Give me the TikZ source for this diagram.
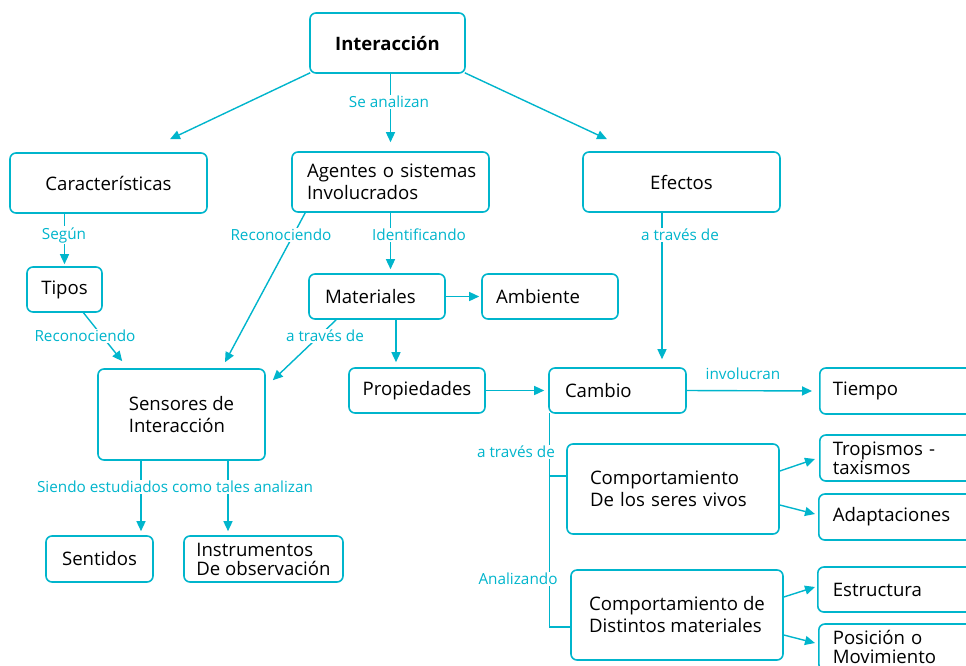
\documentclass[tikz,border=0pt]{standalone}
\usepackage{fontspec}
\setmainfont{Open Sans}
\usetikzlibrary{arrows.meta,calc}
\definecolor{cy}{RGB}{0,181,204}
\begin{document}
\begin{tikzpicture}[x=1pt,y=-1pt,
  box/.style={draw=cy,line width=1.6pt,rounded corners=6pt,fill=white,
    font=\fontsize{18.6}{22}\selectfont,text=black,inner sep=0pt,align=left},
  tbox/.style={box,font=\fontsize{18.6}{19}\selectfont},
  lbl/.style={text=cy,fill=white,font=\fontsize{15.3}{17}\selectfont,inner sep=1.5pt},
  ln/.style={draw=cy,line width=1.4pt},
  arr/.style={ln,-{Triangle[length=10pt,width=9pt]}}]
\useasboundingbox (0,0) rectangle (966,665);
\clip (0,0) rectangle (966,665);
% nodes
\node[box,minimum width=155pt,minimum height=60pt,font=\fontsize{18.5}{22}\selectfont\bfseries] (int) at (387.5,43) {Interacción};
\node[box,minimum width=197pt,minimum height=60pt] (car) at (108.5,183) {Características};
\node[box,text width=167pt,inner xsep=15pt,minimum height=60pt] (age) at (390.5,182) {\mbox{Agentes o sistemas}\\\mbox{Involucrados}};
\node[box,minimum width=197pt,minimum height=60pt] (efe) at (681.5,182) {Efectos};
\node[box,minimum width=75pt,minimum height=45pt] (tip) at (64.5,289.5) {Tipos};
\node[box,text width=104pt,inner xsep=16pt,minimum height=45pt] (mat) at (377,296.5) {\mbox{Materiales}};
\node[box,text width=108pt,inner xsep=14pt,minimum height=45pt] (amb) at (550,296.5) {\mbox{Ambiente}};
\node[box,minimum width=167pt,minimum height=91pt] (sen) at (181.5,414.5) {Sensores de\\Interacción};
\node[box,minimum width=136pt,minimum height=45pt] (pro) at (417,390.5) {Propiedades};
\node[box,text width=105pt,inner xsep=16pt,minimum height=45pt] (cam) at (617.5,390.5) {\mbox{Cambio}};
\node[box,anchor=west,text width=134pt,inner xsep=13pt,minimum height=46pt] (tie) at (819,391) {\mbox{Tiempo}};
\node[box,text width=166pt,inner xsep=23pt,minimum height=90pt] (csv) at (673,489) {\mbox{Comportamiento}\\\mbox{De los seres vivos}};
\node[tbox,anchor=west,text width=134pt,inner xsep=13pt,minimum height=46pt] (tro) at (819,458) {\mbox{Tropismos -}\\\mbox{taxismos}};
\node[box,anchor=west,text width=134pt,inner xsep=14pt,minimum height=46pt] (ada) at (818,517) {\mbox{Adaptaciones}};
\node[box,minimum width=212pt,minimum height=90pt] (cdm) at (677,615) {Comportamiento de\\Distintos materiales};
\node[box,anchor=west,text width=134pt,inner xsep=15pt,minimum height=45pt] (est) at (817,589.5) {\mbox{Estructura}};
\node[tbox,anchor=west,text width=134pt,inner xsep=14pt,minimum height=46pt] (pos) at (818,647) {\mbox{Posición o}\\\mbox{Movimiento}};
\node[box,minimum width=107pt,minimum height=46pt] (sent) at (99.5,559) {Sentidos};
\node[tbox,minimum width=159pt,minimum height=46pt] (ins) at (263.5,559) {Instrumentos\\De observación};
% connectors
\draw[arr] ($(int.south west)+(1,-1)$) -- ($(car.north)+(61.5,-13)$);
\draw[arr] ($(int.south east)+(-1,-1)$) -- ($(efe.north)+(-74.5,-12)$);
\draw[arr,shorten >=9pt] (int.south -| age.north) -- (age.north);
\draw[arr,shorten >=2pt] (car.south -| tip.north) -- (tip.north);
\draw[arr,shorten >=4pt] (age.south) -- (age.south |- mat.north);
\draw[arr] ($(age.south west)+(14,0)$) -- ($(sen.north)+(43.5,-6)$);
\draw[arr] ($(tip.south)+(19,0)$) -- ($(sen.north west)+(25,-7)$);
\draw[arr] ($(mat.south west)+(28,0)$) -- ($(sen.north east)+(7,12)$);
\draw[arr,shorten >=2pt] (mat.east) -- (amb.west);
\coordinate (mp) at ($(mat.south)+(19,0)$);
\draw[arr,shorten >=5pt] (mp) -- (mp |- pro.north);
\draw[arr,shorten >=4pt] (pro.east) -- (cam.west);
\coordinate (ep) at ($(efe.south)+(-19.5,0)$);
\draw[arr,shorten >=8pt] (ep) -- (ep |- cam.north);
\draw[arr,shorten >=7pt] (cam.east) -- (tie.west);
\coordinate (bx) at ($(cam.south west)+(1,-1)$);
\coordinate (jv) at ($(csv.west)+(0,-13)$);
\coordinate (jm) at ($(cdm.west)+(0,12)$);
\draw[ln] (bx) -- (bx |- jm) -- (jm);
\draw[ln] (bx |- jv) -- (jv);
\draw[arr] ($(csv.east)+(0,-18)$) -- ($(tro.west)+(-4,1)$);
\draw[arr] ($(csv.east)+(0,16)$) -- ($(ada.west)+(-3,-3)$);
\draw[arr] ($(cdm.east)+(0,-18)$) -- ($(est.west)+(-2,-2.5)$);
\draw[arr] ($(cdm.east)+(0,20)$) -- ($(pos.west)+(-3,-4)$);
\coordinate (s1) at ($(sen.south)+(-40.5,0)$);
\coordinate (s2) at ($(sen.south)+(46.5,0)$);
\draw[arr,shorten >=4pt] (s1) -- (s1 |- sent.north);
\draw[arr,shorten >=4pt] (s2) -- (s2 |- ins.north);
% labels
\node[lbl] (l1) at (389,102) {Se analizan};
\node[lbl] (l2) at (64,235) {Según};
\node[lbl] (l3) at (281,235) {Reconociendo};
\node[lbl] (l4) at (419,235) {Identificando};
\node[lbl] (l5) at (680,235) {a través de};
\node[lbl] (l6) at (85,336) {Reconociendo};
\node[lbl] (l7) at (325,336) {a través de};
\node[lbl,fill=none] (l8) at (743,374) {involucran};
\node[lbl] (l9) at (516,452) {a través de};
\node[lbl] (l10) at (518,579) {Analizando};
\node[lbl] (l11) at (175,487) {Siendo estudiados como tales analizan};
\end{tikzpicture}
\end{document}
